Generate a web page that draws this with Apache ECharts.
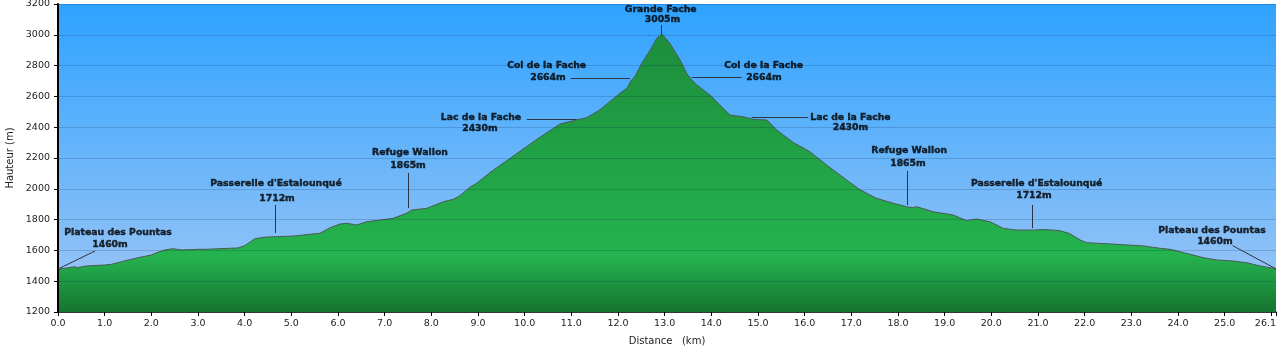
<!DOCTYPE html>
<html>
<head>
<meta charset="utf-8">
<script src="https://cdn.jsdelivr.net/npm/echarts@6/dist/echarts.min.js"></script>
<style>html,body{margin:0;padding:0;background:#fff}#c{width:1280px;height:349px}</style>
</head>
<body>
<div id="c"></div>
<script>
// Distance along the route (km)
const distances = [0, 0.36, 0.43, 0.5, 0.65, 1.0, 1.15, 1.36, 1.72, 2.0, 2.08, 2.29, 2.47, 2.65, 3.0, 3.15, 3.86, 4.0, 4.22, 4.43, 5.04, 5.61, 5.83, 6.04, 6.19, 6.40, 6.61, 7.18, 7.47, 7.58, 7.90, 8.26, 8.47, 8.61, 8.83, 8.97, 9.33, 9.69, 10.04, 10.40, 10.76, 11.04, 11.33, 11.61, 12.04, 12.19, 12.29, 12.36, 12.51, 12.69, 12.83, 12.94, 13.11, 13.33, 13.47, 13.58, 13.69, 13.97, 14.40, 14.68, 14.90, 15.19, 15.40, 15.76, 16.11, 16.47, 16.90, 17.18, 17.33, 17.54, 17.90, 18.18, 18.32, 18.40, 18.75, 19.18, 19.47, 19.68, 19.97, 20.26, 20.54, 20.90, 21.11, 21.47, 21.68, 21.90, 22.04, 22.54, 23.26, 23.61, 23.83, 24.18, 24.54, 24.83, 25.18, 25.47, 25.76, 26.04, 26.1];
// Elevation (m)
const elevations = [1477, 1494, 1488, 1494, 1500, 1505, 1510, 1527, 1553, 1570, 1581, 1603, 1611, 1603, 1607, 1607, 1616, 1630, 1676, 1686, 1693, 1711, 1747, 1771, 1776, 1765, 1786, 1808, 1841, 1862, 1873, 1916, 1932, 1955, 2010, 2036, 2122, 2198, 2274, 2350, 2421, 2442, 2462, 2512, 2620, 2653, 2707, 2728, 2815, 2901, 2977, 3005, 2945, 2836, 2750, 2707, 2674, 2609, 2479, 2468, 2451, 2447, 2382, 2300, 2241, 2155, 2057, 1995, 1971, 1938, 1906, 1884, 1877, 1884, 1851, 1830, 1793, 1804, 1786, 1743, 1732, 1732, 1736, 1728, 1709, 1668, 1650, 1642, 1629, 1614, 1607, 1581, 1553, 1538, 1531, 1520, 1499, 1484, 1478];

const xTickInterval = 1;
const yTicks = {min: 1200, max: 3200, interval: 200};

// Waypoint annotations: name, elevation text, where each text line sits, and leader line (data coords)
const waypointNames = ["Plateau des Pountas", "Passerelle d'Estalounqué", "Refuge Wallon", "Lac de la Fache", "Col de la Fache", "Grande Fache", "Col de la Fache", "Lac de la Fache", "Refuge Wallon", "Passerelle d'Estalounqué", "Plateau des Pountas"];
const waypointElev = ["1460m", "1712m", "1865m", "2430m", "2664m", "3005m", "2664m", "2430m", "1865m", "1712m", "1460m"];
const nameAt = [[1.286, 1713], [4.671, 2031], [7.542, 2233], [9.064, 2462], [10.471, 2802], [12.916, 3161], [15.121, 2802], [16.981, 2464], [18.241, 2248], [20.971, 2031], [24.727, 1728]];
const elevAt = [[1.114, 1635], [4.693, 1934], [7.50, 2148], [9.042, 2393], [10.499, 2722], [12.953, 3101], [15.127, 2724], [16.981, 2399], [18.213, 2163], [20.913, 1955], [24.791, 1657]];
const leaders = [
  [[0.793, 1596], [0, 1479]],
  [[4.65, 1895], [4.65, 1713]],
  [[7.50, 2103], [7.50, 1875]],
  [[10.043, 2451], [11.114, 2451]],
  [[10.986, 2718], [12.257, 2718]],
  [[12.92, 3064], [12.92, 3005]],
  [[13.578, 2722], [14.650, 2722]],
  [[14.864, 2462], [16.077, 2462]],
  [[18.191, 2116], [18.191, 1895]],
  [[20.885, 1895], [20.885, 1744]],
  [[25.170, 1631], [26.1, 1480]]
];

const profile = distances.map((d, i) => [d, elevations[i]]);
const labelPts = [];
waypointNames.forEach((n, i) => {
  labelPts.push({value: nameAt[i], name: n});
  labelPts.push({value: elevAt[i], name: waypointElev[i]});
});

const chart = echarts.init(document.getElementById('c'), null, {renderer: 'canvas'});
const axisFont = {fontFamily: 'DejaVu Sans', fontSize: 9.5, color: '#222'};
chart.setOption({
  animation: false,
  backgroundColor: '#ffffff',
  grid: {
    left: 58, right: 4, top: 4, bottom: 37, show: true, borderWidth: 0,
    containLabel: false, outerBoundsMode: 'none',
    backgroundColor: new echarts.graphic.LinearGradient(0, 0, 0, 1, [
      {offset: 0, color: '#2ea3ff'},
      {offset: 1, color: '#a2c7f5'}
    ])
  },
  xAxis: {
    type: 'value', min: 0, max: 26.1, interval: xTickInterval,
    name: 'Distance   (km)', nameLocation: 'middle', nameGap: 24,
    nameTextStyle: {fontFamily: 'DejaVu Sans', fontSize: 10, color: '#222'},
    axisLine: {show: true, onZero: false, lineStyle: {color: '#000', width: 1.5}},
    axisTick: {show: true, length: 4, lineStyle: {color: '#000'}},
    axisLabel: Object.assign({
      margin: 7, alignMaxLabel: 'right',
      formatter: v => (Math.abs(v - 26) < 1e-6 ? '' : v.toFixed(1))
    }, axisFont),
    splitLine: {show: false}
  },
  yAxis: {
    type: 'value', min: yTicks.min, max: yTicks.max, interval: yTicks.interval, z: 5,
    name: 'Hauteur (m)', nameLocation: 'middle', nameGap: 43,
    nameTextStyle: {fontFamily: 'DejaVu Sans', fontSize: 10, color: '#222'},
    axisLine: {show: true, lineStyle: {color: '#000', width: 2}},
    axisTick: {show: true, length: 4, lineStyle: {color: '#000'}},
    axisLabel: Object.assign({margin: 8, formatter: v => String(v)}, axisFont),
    splitLine: {show: true, lineStyle: {color: 'rgba(0,20,60,0.17)', width: 1}}
  },
  series: [
    {
      type: 'line', data: profile, symbol: 'none', smooth: false, z: 2,
      lineStyle: {color: '#4a5a55', width: 1},
      areaStyle: {
        opacity: 1,
        color: new echarts.graphic.LinearGradient(0, 0, 0, 1, [
          {offset: 0, color: '#1d8d3c'},
          {offset: 0.8, color: '#24b34e'},
          {offset: 1, color: '#167430'}
        ])
      }
    },
    {
      type: 'lines', coordinateSystem: 'cartesian2d', z: 6, polyline: false,
      lineStyle: {color: '#2a3548', width: 1, opacity: 1},
      data: leaders.map(c => ({coords: c}))
    },
    {
      type: 'scatter', data: labelPts, symbolSize: 0, z: 7, silent: true,
      label: {
        show: true, position: 'inside', formatter: '{b}',
        fontFamily: 'DejaVu Sans', fontWeight: 'bold', fontSize: 9.3, color: '#000000',
        textBorderColor: '#000000', textBorderWidth: 0.4
      }
    }
  ]
});
</script>
</body>
</html>
